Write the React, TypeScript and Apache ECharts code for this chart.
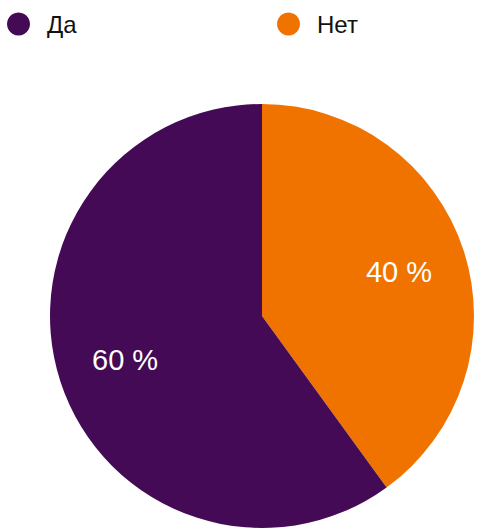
import React, { useEffect, useRef } from "react";
import * as echarts from "echarts";

const categories = ["Нет", "Да"];
const values = [40, 60];
const colors = ["#f07300", "#440a55"];

export default function App() {
  const ref = useRef<HTMLDivElement>(null);
  useEffect(() => {
    if (!ref.current) return;
    const chart = echarts.init(ref.current, undefined, { renderer: "svg" });
    const data = categories.map((name, i) => ({
      name,
      value: values[i],
      itemStyle: { color: colors[i] },
    }));
    const legendBase = {
      top: 12,
      padding: 0,
      orient: "horizontal" as const,
      icon: "circle",
      itemWidth: 23,
      itemHeight: 23,
      itemGap: 0,
      textStyle: {
        fontSize: 24,
        color: "#111",
        fontFamily: "Liberation Sans",
        padding: [0, 0, 0, 12],
      },
      selectedMode: false,
    };
    chart.setOption({
      animation: false,
      textStyle: { fontFamily: "Liberation Sans" },
      legend: [
        { ...legendBase, left: 7, data: ["Да"] },
        { ...legendBase, left: 277, data: ["Нет"] },
      ],
      series: [
        {
          type: "pie",
          center: [262, 316],
          radius: [0, 212],
          startAngle: 90,
          clockwise: true,
          label: { show: false },
          labelLine: { show: false },
          itemStyle: { borderWidth: 0 },
          data,
        },
        {
          type: "pie",
          center: [262, 316],
          radius: [70, 212],
          startAngle: 90,
          clockwise: true,
          silent: true,
          legendHoverLink: false,
          itemStyle: { color: "rgba(0,0,0,0)", borderWidth: 0 },
          label: {
            show: true,
            position: "inside",
            formatter: "{c} %",
            color: "#ffffff",
            fontSize: 29,
            fontFamily: "Liberation Sans",
          },
          labelLine: { show: false },
          data: categories.map((name, i) => ({ name: name + " ", value: values[i] })),
        },
      ],
    });
    return () => chart.dispose();
  }, []);
  return (
    <div
      ref={ref}
      style={{ position: "fixed", left: 0, top: 0, width: 497, height: 529, background: "#fff" }}
    />
  );
}
